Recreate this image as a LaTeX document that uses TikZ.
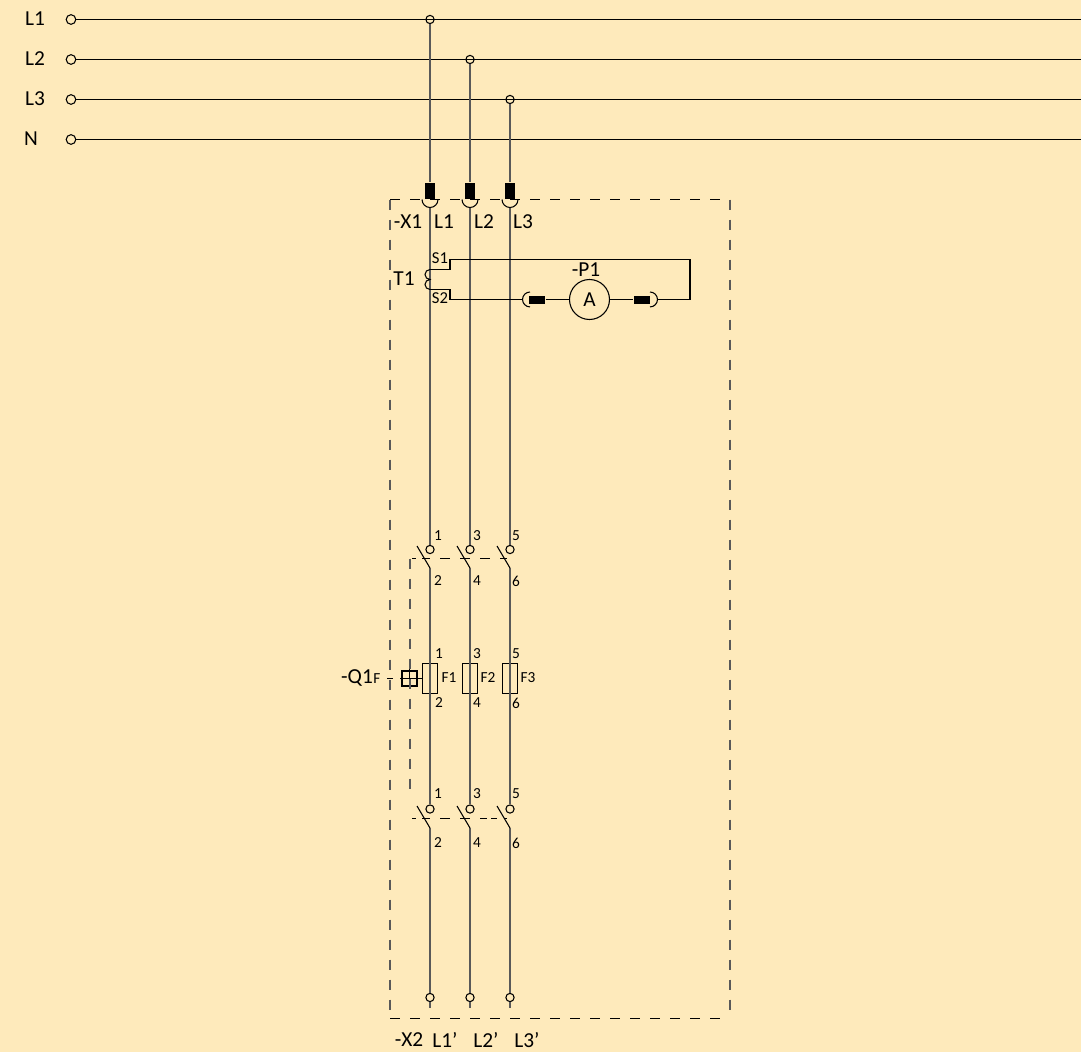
\documentclass[tikz,border=0pt]{standalone}
\usepackage{fontspec}
\setmainfont{Carlito}
\usetikzlibrary{positioning}
\definecolor{paper}{RGB}{254,234,187}

\begin{document}
\begin{tikzpicture}[x=0.75pt,y=-0.75pt,line width=0.8pt]

	\tikzset{term/.style={circle, draw, inner sep=0pt, minimum size=6.2pt},
			 busterm/.style={circle, draw, inner sep=0pt, minimum size=7.2pt},
			 plugv/.style={rectangle, fill=black, inner sep=0pt, minimum width=7pt, minimum height=12pt},
			 plugh/.style={rectangle, fill=black, inner sep=0pt, minimum width=12pt, minimum height=6pt},
			 fuse/.style={rectangle, draw, line width=0.75pt, inner sep=0pt, minimum width=11.25pt, minimum height=22.5pt},
			 big/.style={inner sep=0pt, font=\fontsize{16pt}{16pt}\selectfont},
			 small/.style={inner sep=0pt, font=\fontsize{11.5pt}{11.5pt}\selectfont},
			 phase/.style={draw=black!65, line width=1.1pt},
			 boxdash/.style={dash pattern=on 7.5pt off 7.5pt}}

	\fill[paper] (0,0) rectangle (1081,1052);
	\useasboundingbox (0,0) rectangle (1081,1052);

	% supply
	\node[big] (lbL1) at (35,19) {L1};
	\node[big] (lbL2) at (35,59) {L2};
	\node[big] (lbL3) at (35,99) {L3};
	\node[big] (lbN) at (31,139) {N};
	\node[busterm] (tL1) at (71,19.5) {};
	\node[busterm] (tL2) at (71,59.5) {};
	\node[busterm] (tL3) at (71,99.5) {};
	\node[busterm] (tN) at (71,139.5) {};
	\coordinate (rL1) at (1081,19.5);
	\coordinate (rL2) at (1081,59.5);
	\coordinate (rL3) at (1081,99.5);
	\coordinate (rN) at (1081,139.5);
	\node[term] (jL1) at (430,19.5) {};
	\node[term] (jL2) at (470,59.5) {};
	\node[term] (jL3) at (510,99.5) {};
	\draw (tL1) -- (rL1);
	\draw (tL2) -- (rL2);
	\draw (tL3) -- (rL3);
	\draw (tN) -- (rN);

	% enclosure
	\coordinate (boxnw) at (390,199.5);
	\coordinate (boxne) at (730,199.5);
	\coordinate (boxsw) at (390,1018.5);
	\coordinate (boxse) at (730,1018.5);
	\draw[boxdash] (boxnw) -- (boxne);
	\draw[boxdash] (boxsw) -- (boxse);
	\draw[boxdash, phase, line width=0.8pt] (boxnw) -- (boxsw);
	\draw[boxdash, phase, line width=0.8pt] (boxne) -- (boxse);

	% plugs
	\node[plugv] (pL1) at (430,191) {};
	\node[plugv] (pL2) at (470,191) {};
	\node[plugv] (pL3) at (510,191) {};
	\coordinate (sL1) at (430,207.5);
	\coordinate (sL2) at (470,207.5);
	\coordinate (sL3) at (510,207.5);
	\draw (422,199.5) arc[start angle=180,end angle=360,radius=6pt];
	\draw (462,199.5) arc[start angle=180,end angle=360,radius=6pt];
	\draw (502,199.5) arc[start angle=180,end angle=360,radius=6pt];
	\node[big] (lbX1) at (408,222) {-X1};
	\node[big] (lbT1) at (444,222) {L1};
	\node[big] (lbT2) at (484,222) {L2};
	\node[big] (lbT3) at (523,222) {L3};

	% first switch
	\node[term] (aL1) at (430,549.5) {};
	\node[term] (aL2) at (470,549.5) {};
	\node[term] (aL3) at (510,549.5) {};
	\coordinate (hL1) at (430,568);
	\coordinate (hL2) at (470,568);
	\coordinate (hL3) at (510,568);
	\coordinate (bL1) at (417,546);
	\coordinate (bL2) at (457,546);
	\coordinate (bL3) at (497,546);
	\node[small] at (438,536) {1};
	\node[small] at (477,536) {3};
	\node[small] at (516,536) {5};
	\node[small] at (438,581) {2};
	\node[small] at (477,581) {4};
	\node[small] at (516,581) {6};

	% fuses
	\node[fuse] (FF1) at (429.5,678) {};
	\node[fuse] (FF2) at (469.5,678) {};
	\node[fuse] (FF3) at (509.5,678) {};
	\node[small] at (449,678) {F1};
	\node[small] at (488,678) {F2};
	\node[small] at (528,678) {F3};
	\node[small] at (439,654) {1};
	\node[small] at (477,654) {3};
	\node[small] at (516,654) {5};
	\node[small] at (439,703) {2};
	\node[small] at (477,703) {4};
	\node[small] at (516,703) {6};

	% second switch
	\node[term] (dL1) at (430,809) {};
	\node[term] (dL2) at (470,809) {};
	\node[term] (dL3) at (510,809) {};
	\coordinate (iL1) at (430,828);
	\coordinate (iL2) at (470,828);
	\coordinate (iL3) at (510,828);
	\coordinate (cL1) at (417,806);
	\coordinate (cL2) at (457,806);
	\coordinate (cL3) at (497,806);
	\node[small] at (438,794) {1};
	\node[small] at (477,794) {3};
	\node[small] at (516,794) {5};
	\node[small] at (438,843) {2};
	\node[small] at (477,843) {4};
	\node[small] at (516,843) {6};

	% outgoing
	\node[term] (eL1) at (430,997.5) {};
	\node[term] (eL2) at (470,997.5) {};
	\node[term] (eL3) at (510,997.5) {};
	\coordinate (oL1) at (430,1008);
	\coordinate (oL2) at (470,1008);
	\coordinate (oL3) at (510,1008);
	\node[big] (lbX2) at (409,1040) {-X2};
	\node[big] (lbO1) at (445,1040) {L1’};
	\node[big] (lbO2) at (486,1040) {L2’};
	\node[big] (lbO3) at (527,1040) {L3’};

	% phases
	\draw[phase]
	(jL1) edge (pL1)
	(jL2) edge (pL2)
	(jL3) edge (pL3)
	(sL1) edge (aL1)
	(sL2) edge (aL2)
	(sL3) edge (aL3)
	(hL1) edge (dL1)
	(hL2) edge (dL2)
	(hL3) edge (dL3)
	(iL1) edge (eL1)
	(iL2) edge (eL2)
	(iL3) edge (eL3)
	(eL1) edge (oL1)
	(eL2) edge (oL2)
	(eL3) edge (oL3);
	\draw
	(hL1) edge (bL1)
	(hL2) edge (bL2)
	(hL3) edge (bL3)
	(iL1) edge (cL1)
	(iL2) edge (cL2)
	(iL3) edge (cL3);

	% current transformer and ammeter
	\coordinate (ctop) at (430,269.5);
	\coordinate (cbot) at (430,289.5);
	\draw (ctop) arc[start angle=90,end angle=270,radius=3.75pt]
		arc[start angle=90,end angle=270,radius=3.75pt];
	\node[small, font=\fontsize{12.5pt}{12.5pt}\selectfont] at (440,258) {S1};
	\node[small, font=\fontsize{12.5pt}{12.5pt}\selectfont] at (440,298) {S2};
	\node[big] (lbCT) at (404,279) {T1};
	\node[draw, circle, inner sep=0pt, minimum size=30pt, font=\fontsize{16pt}{16pt}\selectfont] (AM) at (589.5,299.5) {A};
	\node[big] (lbP1) at (586,270) {-P1};
	\node[plugh] (qL) at (537,299.5) {};
	\node[plugh] (qR) at (642,299.5) {};
	\coordinate (kL) at (522.5,299.5);
	\coordinate (kR) at (657.5,299.5);
	\draw (530,292) arc[start angle=90,end angle=270,radius=5.6pt];
	\draw (650,292) arc[start angle=90,end angle=-90,radius=5.6pt];
	\draw (qL) -- (AM);
	\draw (AM) -- (qR);
	\draw (ctop) -- (450,269.5) -- (450,259.5) -- (690,259.5) -- (690,299.5) -- (kR);
	\draw (cbot) -- (450,289.5) -- (450,299.5) -- (kL);

	% mechanical link
	\node[small] (lbF) at (377,679) {F};
	\node[big] (lbQ1) at (357,678) {-Q1};
	\node[draw, rectangle, inner sep=0pt, minimum width=11.25pt, minimum height=11.25pt] (hand) at (409.5,678.5) {};
	\coordinate (linkL) at (387,678.5);
	\coordinate (crossT) at (409.5,668);
	\coordinate (crossB) at (409.5,689);
	\draw[dash pattern=on 16.5pt off 5.25pt on 4.5pt] (FF1.west |- hand) -- (linkL);
	\draw (crossT) -- (crossB);
	\coordinate (upL) at (412,558.5);
	\coordinate (upR) at (507,558.5);
	\coordinate (loL) at (412,818.5);
	\coordinate (loR) at (507,818.5);
	\coordinate (sideT) at (410,558.5);
	\coordinate (sideB) at (410,798);
	\draw[dash pattern=on 3pt off 4.5pt on 6pt off 7.5pt on 7.5pt off 7.5pt on 7.5pt off 7.5pt on 7.5pt off 7.5pt on 5.25pt] (upL) -- (upR);
	\draw[dash pattern=on 3pt off 4.5pt on 6pt off 7.5pt on 7.5pt off 7.5pt on 7.5pt off 7.5pt on 5.25pt] (loL) -- (loR);
	\draw[boxdash, phase, line width=0.8pt] (sideT) -- (sideB);

\end{tikzpicture}
\end{document}
